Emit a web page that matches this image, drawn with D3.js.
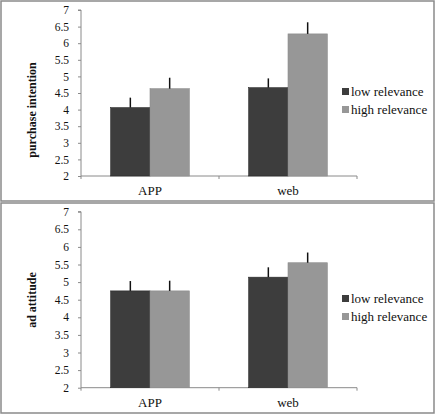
<!DOCTYPE html>
<html><head><meta charset="utf-8">
<script src="https://cdn.jsdelivr.net/npm/d3@7"></script>
<style>html,body{margin:0;padding:0;background:#fff;}svg{display:block;}</style>
</head><body>
<svg id="c" width="437" height="415"></svg>
<script>
const categories = ["APP", "web"];
const seriesNames = ["low relevance", "high relevance"];
const purchaseMeans = [[4.06, 4.63], [4.66, 6.28]];
const purchaseErr = [[0.30, 0.33], [0.28, 0.35]];
const attitudeMeans = [[4.75, 4.75], [5.14, 5.55]];
const attitudeErr = [[0.28, 0.29], [0.28, 0.29]];
const yTicks = [2, 2.5, 3, 3.5, 4, 4.5, 5, 5.5, 6, 6.5, 7];
const colors = ["#3d3d3d", "#979797"];
const FONT = "Liberation Serif, Times New Roman, serif";

const svg = d3.select("#c");

function panel(cfg) {
  const g = svg.append("g");
  g.append("rect").attr("x", cfg.box[0]).attr("y", cfg.box[1])
    .attr("width", cfg.box[2]).attr("height", cfg.box[3])
    .attr("fill", "#fff").attr("stroke", "#8a8a8a").attr("stroke-width", 1.5);

  const y = d3.scaleLinear().domain([2, 7]).range([cfg.y0, cfg.y1]);
  const x0 = d3.scaleBand().domain(categories).range([81, 357]).paddingInner(0.43).paddingOuter(0.215);
  const x1 = d3.scaleBand().domain([0, 1]).range([0, x0.bandwidth()]);

  // y axis
  const ya = d3.axisLeft(y).tickValues(yTicks).tickSize(3).tickPadding(9).tickFormat(d3.format("~g"));
  const yg = g.append("g").attr("transform", "translate(81,0)").call(ya);
  yg.attr("font-family", FONT);
  yg.select(".domain").attr("stroke", "#8a8a8a").attr("d", `M-3,${cfg.y1}H0V${cfg.y0}`);
  yg.selectAll(".tick line").attr("stroke", "#8a8a8a");
  yg.selectAll("text").style("font-family", FONT).attr("font-size", 11.5).attr("fill", "#111");

  // x axis
  const xl = d3.scaleLinear().domain([0, 2]).range([81, 357]);
  const xg = g.append("g").attr("transform", `translate(0,${cfg.y0})`);
  xg.append("line").attr("x1", 81).attr("x2", 357).attr("stroke", "#8a8a8a");
  xg.selectAll("line.t").data([0, 1, 2]).enter().append("line").attr("class", "t")
    .attr("x1", d => xl(d)).attr("x2", d => xl(d)).attr("y1", 0).attr("y2", 3).attr("stroke", "#8a8a8a");
  xg.selectAll("text").data(categories).enter().append("text")
    .attr("x", d => x0(d) + x0.bandwidth() / 2).attr("y", 19)
    .attr("text-anchor", "middle").style("font-family", FONT).attr("font-size", 13).attr("fill", "#111")
    .text(d => d);

  // bars
  categories.forEach((c, ci) => {
    [0, 1].forEach(si => {
      const v = cfg.means[ci][si], e = cfg.errs[ci][si];
      const bx = x0(c) + x1(si);
      g.append("rect").attr("x", bx).attr("y", y(v)).attr("width", x1.bandwidth())
        .attr("height", y(2) - y(v)).attr("fill", colors[si])
        .attr("stroke", si === 0 ? "#2a2a2a" : "#8c8c8c").attr("stroke-width", 0.6);
      g.append("line").attr("x1", bx + x1.bandwidth() / 2).attr("x2", bx + x1.bandwidth() / 2)
        .attr("y1", y(v)).attr("y2", y(v + e)).attr("stroke", "#111").attr("stroke-width", 1.5);
    });
  });

  // y label
  g.append("text").attr("transform", `translate(${cfg.labX},${cfg.labY}) rotate(-90)`)
    .attr("text-anchor", "middle").attr("font-weight", "bold").style("font-family", FONT)
    .attr("font-size", 12).attr("fill", "#111").text(cfg.label);

  // legend
  seriesNames.forEach((s, i) => {
    const ly = cfg.legY[i];
    g.append("rect").attr("x", 342).attr("y", ly - 4).attr("width", 7).attr("height", 7).attr("fill", colors[i]);
    g.append("text").attr("x", 351).attr("y", ly + 4).style("font-family", FONT).attr("font-size", 13)
      .attr("fill", "#111").text(s);
  });
}

panel({ box: [1, 1, 433, 200], y0: 176, y1: 10, means: purchaseMeans, errs: purchaseErr,
  label: "purchase intention", labX: 36, labY: 110, legY: [92, 110] });
panel({ box: [1, 203, 433, 210], y0: 387.7, y1: 211.7, means: attitudeMeans, errs: attitudeErr,
  label: "ad attitude", labX: 36, labY: 300, legY: [299, 317] });
</script>
</body></html>
